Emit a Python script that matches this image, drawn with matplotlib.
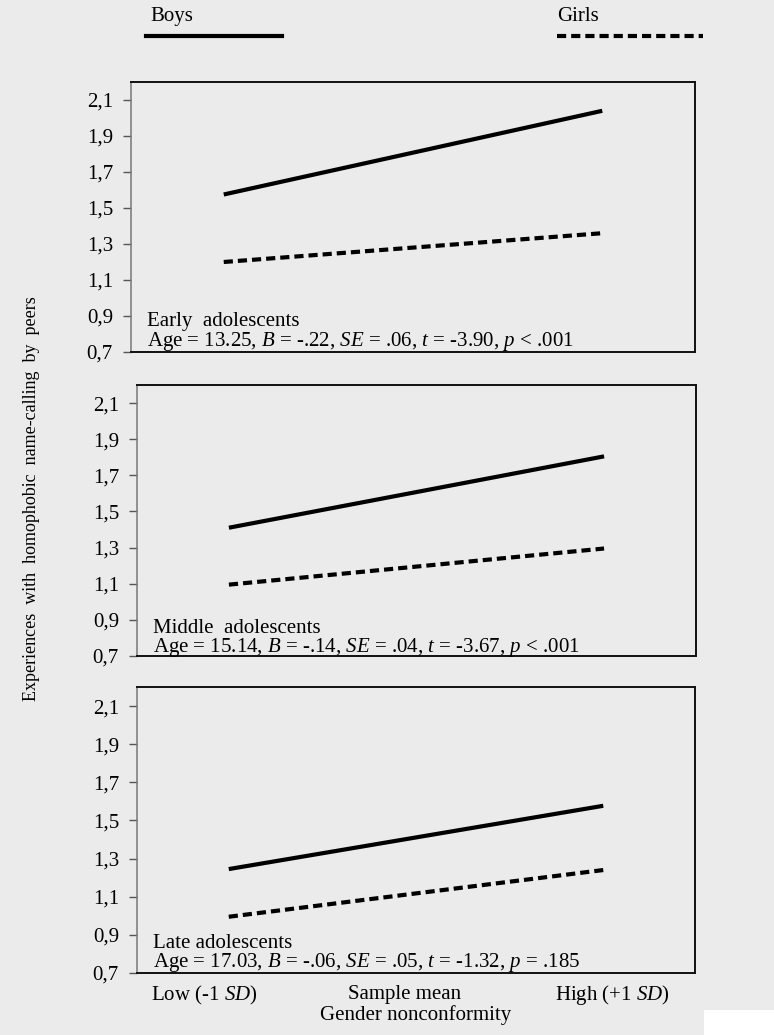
import matplotlib
matplotlib.use("Agg")
import matplotlib.pyplot as plt
from matplotlib.lines import Line2D
from matplotlib.patches import Rectangle

# ---- data ----
x_levels = [0, 1, 2]
x_labels = ["Low (-1 $SD$)", "Sample mean", "High (+1 $SD$)"]
y_ticks = [0.7, 0.9, 1.1, 1.3, 1.5, 1.7, 1.9, 2.1]
y_ticklabels = ["0,7", "0,9", "1,1", "1,3", "1,5", "1,7", "1,9", "2,1"]

boys_early = [1.575, 2.04]
girls_early = [1.20, 1.36]
boys_middle = [1.41, 1.805]
girls_middle = [1.095, 1.295]
boys_late = [1.245, 1.577]
girls_late = [0.995, 1.24]

panel_titles = ["Early  adolescents", "Middle  adolescents", "Late adolescents"]
panel_stats = [
    "Age = 13.25, $B$ = -.22, $SE$ = .06, $t$ = -3.90, $p$ < .001",
    "Age = 15.14, $B$ = -.14, $SE$ = .04, $t$ = -3.67, $p$ < .001",
    "Age = 17.03, $B$ = -.06, $SE$ = .05, $t$ = -1.32, $p$ = .185",
]
series_x = [0, 2]

plt.rcParams["font.family"] = ["Liberation Serif", "DejaVu Serif"]
plt.rcParams["mathtext.fontset"] = "custom"
plt.rcParams["mathtext.rm"] = "Liberation Serif"
plt.rcParams["mathtext.it"] = "Liberation Serif:italic"

BG = "#ebebeb"
W, H = 774, 1035
fig = plt.figure(figsize=(W / 100, H / 100), dpi=100, facecolor=BG)

def rect(l, t, r, b):
    return [l / W, 1 - b / H, (r - l) / W, (b - t) / H]

boxes = [(131, 82, 695, 352), (137, 385, 696, 656), (137, 687, 695, 973)]
title_off = [26, 23, 25]   # px above bottom for title baseline
stats_off = [6, 4, 6]      # px above bottom for stats baseline
boys = [boys_early, boys_middle, boys_late]
girls = [girls_early, girls_middle, girls_late]

FS = 15
for i, bx in enumerate(boxes):
    l, t, r, b = bx
    hpx = b - t
    ax = fig.add_axes(rect(*bx))
    ax.set_facecolor(BG)
    ax.plot(series_x, boys[i], color="black", lw=3.0, solid_capstyle="butt")
    ax.plot(series_x, girls[i], color="black", lw=3.0, dashes=(2.2, 1.2))
    ax.set_xlim(-0.49, 2.49)
    ax.set_ylim(0.7, 2.2)
    ax.set_yticks(y_ticks)
    ax.set_yticklabels(y_ticklabels, fontsize=FS)
    ax.set_xticks([])
    ax.tick_params(axis="y", length=6, width=1, color="#555555", pad=7)
    for s in ax.spines.values():
        s.set_color("#111111")
        s.set_linewidth(1.4)
    ax.spines["left"].set_color("#777777")
    ax.spines["left"].set_linewidth(1.1)
    ax.text(16 / (r - l), title_off[i] / hpx, panel_titles[i], transform=ax.transAxes,
            fontsize=FS, ha="left", va="baseline")
    ax.text(16 / (r - l), stats_off[i] / hpx, panel_stats[i], transform=ax.transAxes,
            fontsize=FS, ha="left", va="baseline")
    if i == 2:
        xl_pos = [-0.13, 0.94, 2.05]
        for xp, lab in zip(xl_pos, x_labels):
            ax.text(xp, -22 / hpx, lab, transform=ax.get_xaxis_transform(),
                    fontsize=FS, ha="center", va="center")
        ax.text(0.50, -42 / hpx, "Gender nonconformity", transform=ax.transAxes,
                fontsize=FS, ha="center", va="center")

# y label
fig.text(32 / W, 1 - 499 / H, "Experiences  with  homophobic  name-calling  by  peers",
         rotation=90, ha="center", va="center", fontsize=13)

# legend
fig.text(150 / W, 1 - 21 / H, "Boys", fontsize=FS, ha="left", va="baseline")
fig.text(557 / W, 1 - 21 / H, "Girls", fontsize=FS, ha="left", va="baseline")
fig.add_artist(Line2D([146 / W, 282 / W], [1 - 36 / H, 1 - 36 / H], color="black", lw=3.0,
                      transform=fig.transFigure))
fig.add_artist(Line2D([557 / W, 703 / W], [1 - 36 / H, 1 - 36 / H], color="black", lw=3.0,
                      dashes=(2.2, 1.2), transform=fig.transFigure))

# white artifact box at the bottom right
fig.add_artist(Rectangle((704 / W, 0), 70 / W, 25 / H, transform=fig.transFigure,
                         facecolor="white", edgecolor="none"))

fig.savefig("out.png", dpi=100, facecolor=BG)
